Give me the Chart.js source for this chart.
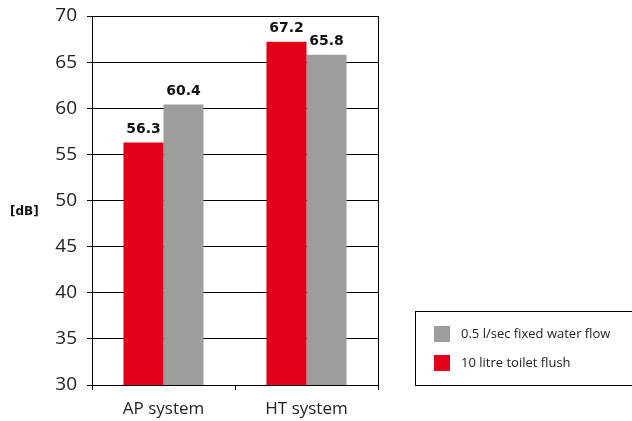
<!DOCTYPE html>
<html>
<head>
<meta charset="utf-8">
<script src="https://cdn.jsdelivr.net/npm/chart.js@4"></script>
<style>
  html, body { margin: 0; padding: 0; background: #fff; }
  #wrap { width: 632px; height: 421px; }
</style>
</head>
<body>
<div id="wrap"><canvas id="chart" width="632" height="421"></canvas></div>
<script>
// chart data
const categories = ['AP system', 'HT system'];
const flushValues = [56.3, 67.2];
const flowValues = [60.4, 65.8];
const seriesNames = ['10 litre toilet flush', '0.5 l/sec fixed water flow'];
const yTicks = [30, 35, 40, 45, 50, 55, 60, 65, 70];

const RED = '#e2001a';
const GREY = '#9d9d9c';
const FONT = '"Open Sans", "Noto Sans", sans-serif';

// value labels, unit label, right frame line and the boxed legend
const extras = {
  id: 'extras',
  afterDatasetsDraw(chart) {
    const ctx = chart.ctx;
    const area = chart.chartArea;
    ctx.save();

    // right frame
    ctx.strokeStyle = '#000';
    ctx.lineWidth = 1;
    ctx.beginPath();
    ctx.moveTo(Math.round(area.right) + 0.5, area.top);
    ctx.lineTo(Math.round(area.right) + 0.5, area.bottom);
    ctx.stroke();

    // values on top of bars
    ctx.fillStyle = '#111';
    ctx.font = 'bold 14px "DejaVu Sans", sans-serif';
    ctx.textAlign = 'center';
    ctx.textBaseline = 'bottom';
    chart.data.datasets.forEach((ds, i) => {
      chart.getDatasetMeta(i).data.forEach((bar, j) => {
        ctx.fillText(ds.data[j].toFixed(1), bar.x, bar.y - 6);
      });
    });

    // unit
    ctx.font = 'bold 12px "DejaVu Sans", sans-serif';
    ctx.textAlign = 'left';
    ctx.textBaseline = 'middle';
    ctx.fillText('[dB]', 10, 212);

    // legend box (grey first, then red)
    ctx.strokeStyle = '#000';
    ctx.strokeRect(415.5, 311.5, 220, 74);
    const order = [1, 0];
    ctx.font = '13px ' + FONT;
    order.forEach((idx, k) => {
      const ds = chart.data.datasets[idx];
      const y = 334 + k * 29;
      ctx.fillStyle = ds.backgroundColor;
      ctx.fillRect(434, y - 8, 16, 16);
      ctx.fillStyle = '#222';
      ctx.fillText(ds.label, 461, y);
    });

    ctx.restore();
  }
};

new Chart(document.getElementById('chart'), {
  type: 'bar',
  data: {
    labels: categories,
    datasets: [
      { label: seriesNames[0], data: flushValues, backgroundColor: RED },
      { label: seriesNames[1], data: flowValues, backgroundColor: GREY }
    ]
  },
  options: {
    responsive: false,
    animation: false,
    layout: { padding: { top: 16, right: 254, left: 0, bottom: 0 } },
    plugins: {
      legend: { display: false },
      tooltip: { enabled: false }
    },
    datasets: {
      bar: { categoryPercentage: 0.56, barPercentage: 1.0 }
    },
    scales: {
      x: {
        offset: true,
        grid: {
          offset: true,
          drawOnChartArea: false,
          drawTicks: true,
          tickLength: 5,
          color: '#000'
        },
        border: { display: true, color: '#000', width: 1 },
        ticks: {
          color: '#222',
          font: { family: FONT, size: 17 },
          padding: 9
        },
        afterFit(scale) { scale.height = 36; scale.paddingLeft = 0; scale.paddingRight = 0; }
      },
      y: {
        min: 30,
        max: 70,
        afterBuildTicks(scale) {
          scale.ticks = yTicks.map(v => ({ value: v }));
        },
        grid: {
          color: '#000',
          lineWidth: 1,
          drawTicks: true,
          tickLength: 5
        },
        border: { display: true, color: '#000', width: 1 },
        ticks: {
          color: '#222',
          font: { family: FONT, size: 19 },
          padding: 10
        },
        afterFit(scale) { scale.width = 92; scale.paddingTop = 0; scale.paddingBottom = 0; }
      }
    }
  },
  plugins: [extras]
});
</script>
</body>
</html>
